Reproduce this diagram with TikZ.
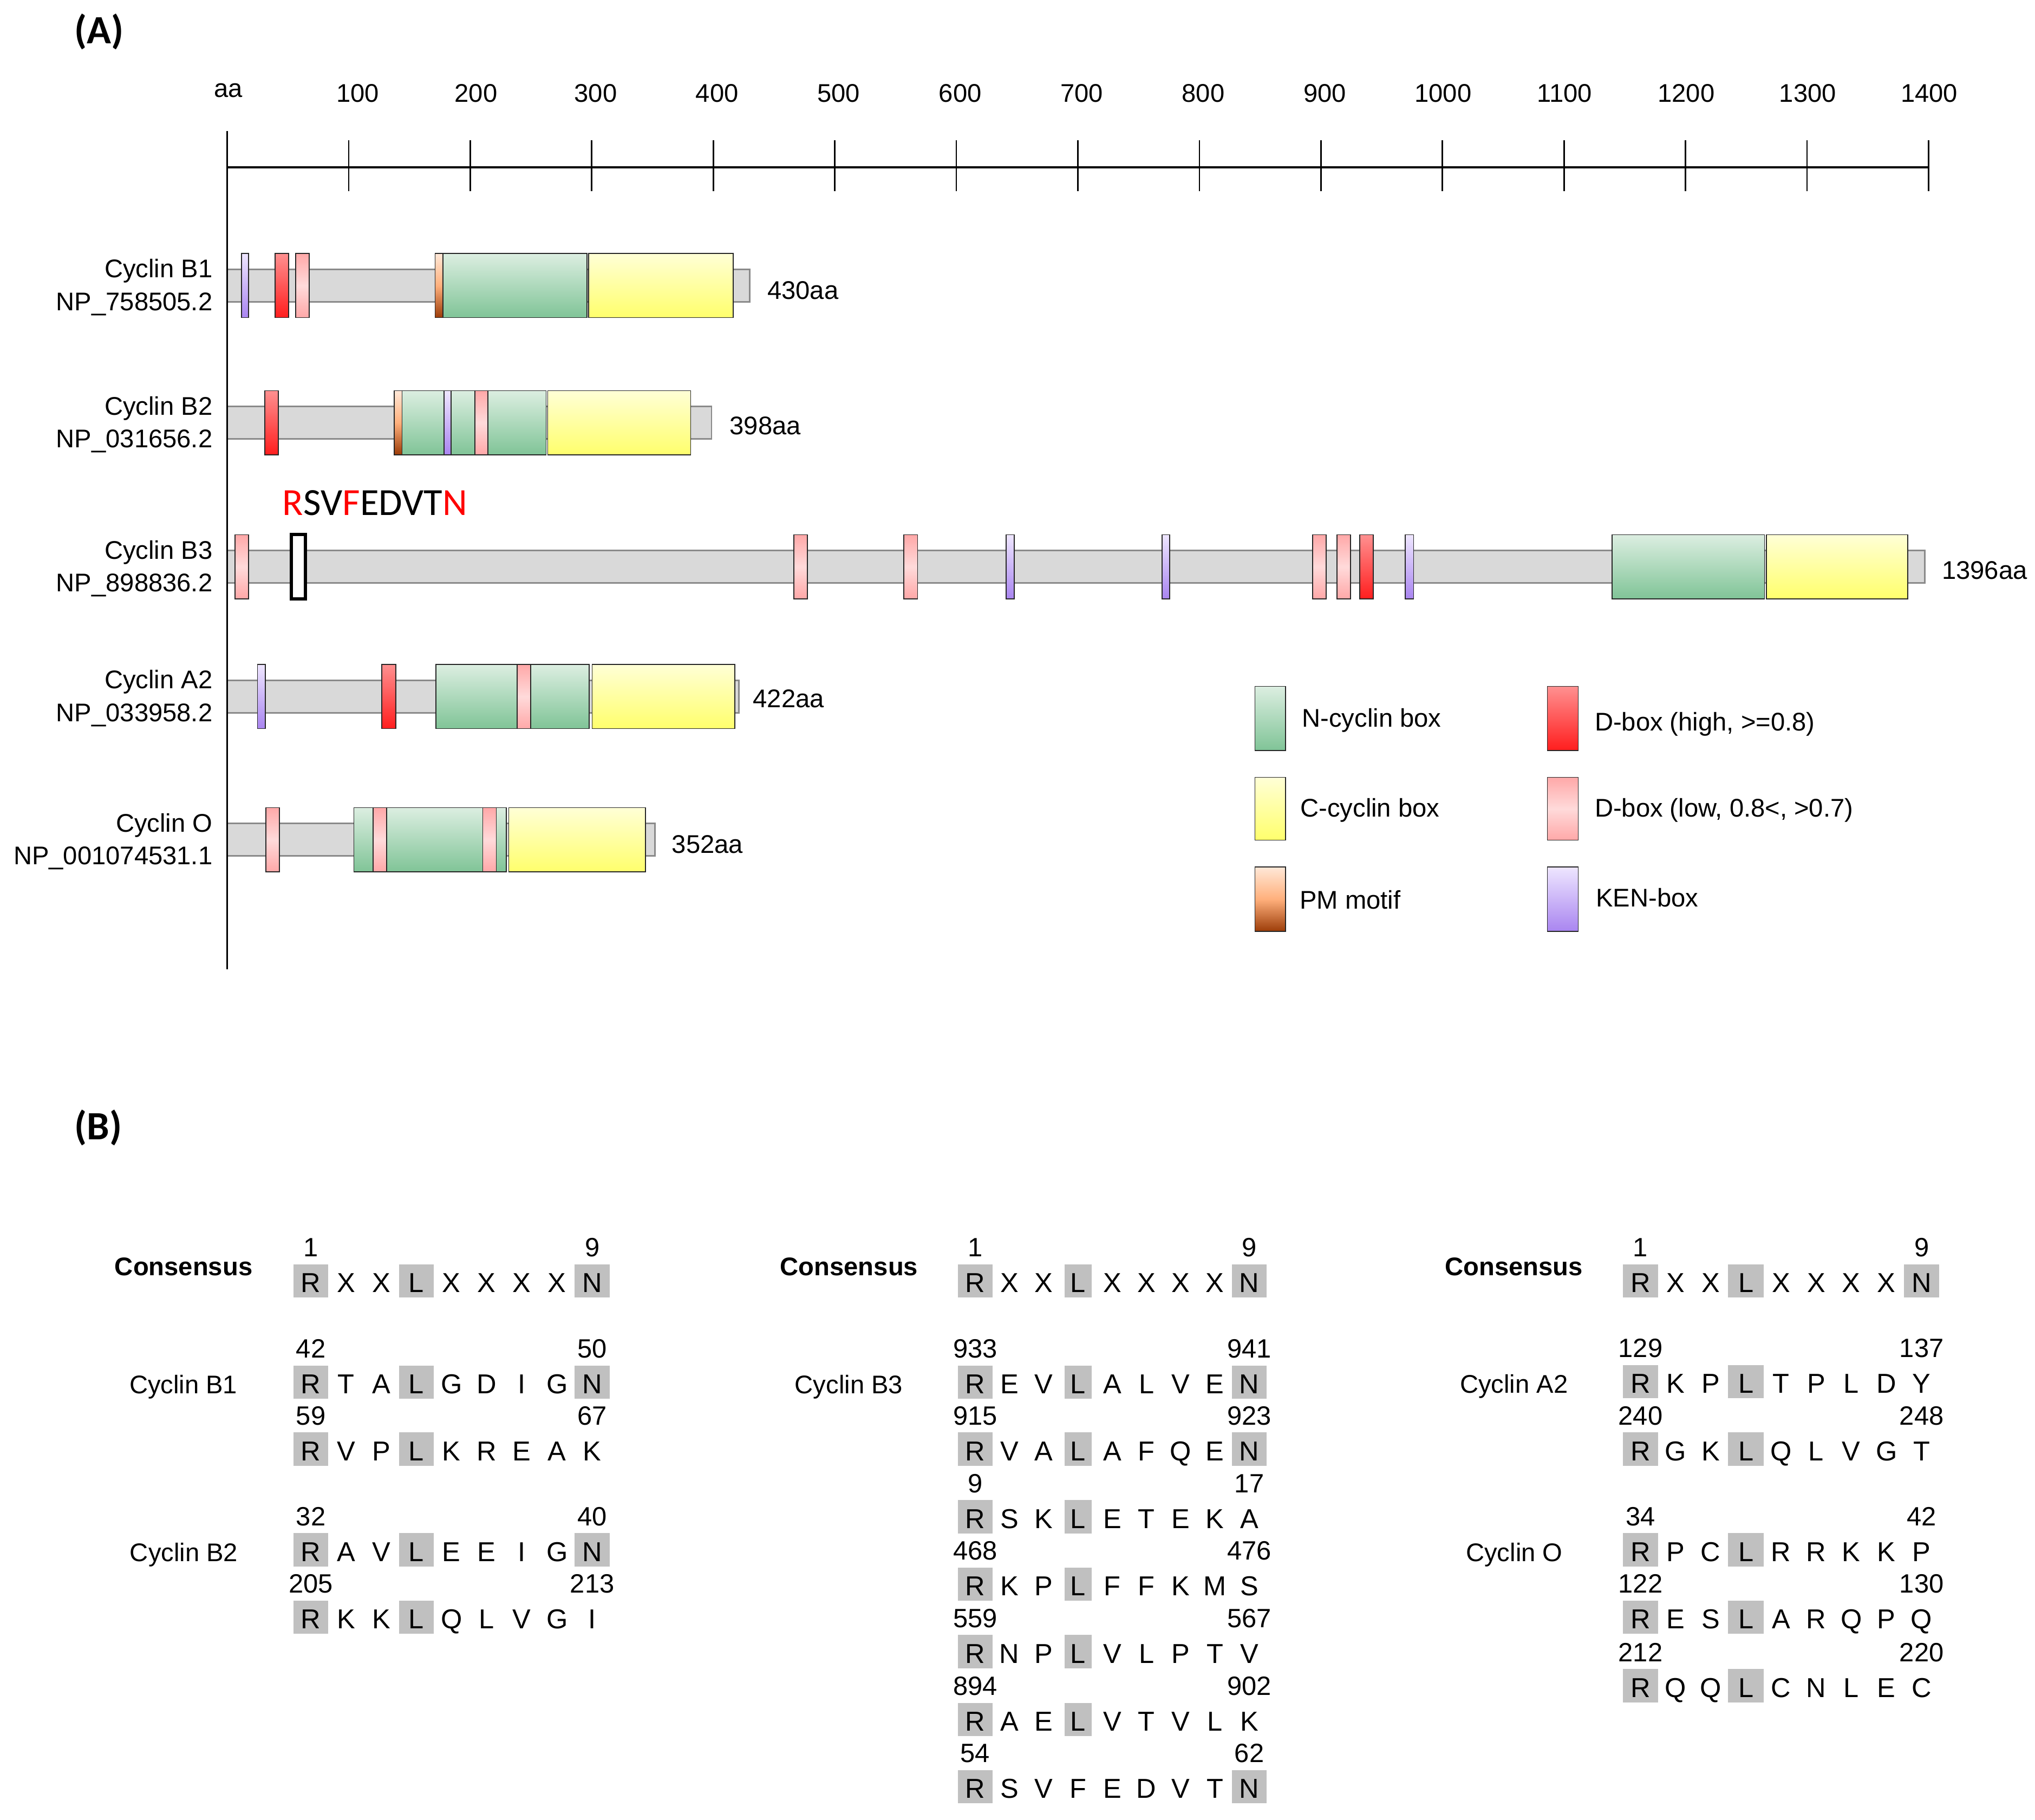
\documentclass[tikz,border=0pt]{standalone}
\usepackage{fontspec}
\setmainfont{Liberation Sans}
\newfontfamily\calib{Carlito}
\newcommand\fsz[1]{\fontsize{#1}{#1}\selectfont}
\definecolor{barfill}{HTML}{D9D9D9}
\definecolor{bardraw}{HTML}{8A8A8A}
\definecolor{ntop}{HTML}{DCEEE1}
\definecolor{nbot}{HTML}{80C497}
\definecolor{ctop}{HTML}{FFFFD6}
\definecolor{cbot}{HTML}{FFFF6C}
\definecolor{dhitop}{HTML}{FF9090}
\definecolor{dhibot}{HTML}{FF1E1E}
\definecolor{dlotop}{HTML}{FFA8A8}
\definecolor{dlomid}{HTML}{FFDADA}
\definecolor{pmtop}{HTML}{FFE8D8}
\definecolor{pmmid}{HTML}{FFB07C}
\definecolor{pmbot}{HTML}{9C3C08}
\definecolor{kentop}{HTML}{EEE6FF}
\definecolor{kenbot}{HTML}{A985F0}
\definecolor{hlgray}{HTML}{C0C0C0}
\tikzset{
  bar/.style={fill=barfill,draw=bardraw,line width=0.8pt},
  dombox/.style={draw=black!85,line width=0.5pt},
  ncyc/.style={dombox,top color=ntop,bottom color=nbot},
  ccyc/.style={dombox,top color=ctop,bottom color=cbot},
  dhi/.style={dombox,top color=dhitop,bottom color=dhibot},
  dlo/.style={dombox,top color=dlotop,bottom color=dlotop,middle color=dlomid},
  pm/.style={dombox,top color=pmtop,bottom color=pmbot,middle color=pmmid},
  ken/.style={dombox,top color=kentop,bottom color=kenbot},
  motifbox/.style={draw=black,line width=1.8pt,fill=white},
  lbl/.style={inner sep=0pt,font=\fsz{14}},
  panel/.style={inner sep=0pt,font=\calib\bfseries\fsz{22},anchor=base west},
  seqtxt/.style={inner sep=0pt,anchor=base,font=\fsz{15}},
  numtxt/.style={inner sep=0pt,anchor=base,font=\fsz{14.5}},
  hl/.style={fill=hlgray},
  axisline/.style={line width=1pt},
  tickline/.style={line width=0.8pt}
}
% domain box: style, x1, x2, row centre
\newcommand\dom[4]{\path[#1] (#2,#4-24.7) rectangle (#3,#4+24.7);}
% protein bar: row centre, end x
\newcommand\protbar[2]{\path[bar] (175,#1-12.5) rectangle (#2,#1+12.5);}
\def\lhw{13.5}
% sequence row: name, x0, dx, baseline, letters, leftnum, rightnum, mode (1=RLN,0=RL,2=RN)
\newcommand\seqrow[8]{%
  \fill[hl] ({#2-13.5},{#4-21.7}) rectangle ({#2+13.5},{#4+4});
  \ifnum#8=2\relax\else
    \fill[hl] ({#2+3*#3-\lhw},{#4-21.7}) rectangle ({#2+3*#3+\lhw},{#4+4});
  \fi
  \ifnum#8=0\relax\else
    \fill[hl] ({#2+8*#3-13.5},{#4-21.7}) rectangle ({#2+8*#3+13.5},{#4+4});
  \fi
  \foreach \c [count=\i from 0] in {#5} {\node[seqtxt] (#1-\i) at ({#2+\i*#3},#4) {\c};}
  \node[numtxt] (#1-a) at (#2,{#4-27.5}) {#6};
  \node[numtxt] (#1-b) at ({#2+8*#3},{#4-27.5}) {#7};
}
\begin{document}
\begin{tikzpicture}[x=0.025cm,y=-0.025cm]
\useasboundingbox (0,0) rectangle (1568,1402);
\fill[white] (0,0) rectangle (1568,1402);

% ---------- panel labels
\node[panel] (pA) at (57,33.4) {(A)};
\node[panel] (pB) at (57,878.2) {(B)};

% ---------- axis
\node[lbl,anchor=base] (aa) at (176,75) {aa};
\foreach \v [count=\k] in {100,200,300,400,500,600,700,800,900,1000,1100,1200,1300,1400}{
  \pgfmathsetmacro\off{\k==1 ? 7 : (\k==2 ? 4.5 : (\k<10 ? 3 : 0.5))}
  \draw[tickline] ({175+93.643*\k},108.2) -- ({175+93.643*\k},147.4);
  \node[lbl,anchor=base] (t\k) at ({175+93.643*\k+\off},78.6) {\v};
}
\draw[axisline] (175,129) -- (1486,129);

% ---------- Cyclin B1
\protbar{220}{577.7}
\dom{ken}{186}{191.6}{220}
\dom{dhi}{212}{222.4}{220}
\dom{dlo}{227.9}{238.3}{220}
\dom{pm}{335.3}{341.3}{220}
\dom{ncyc}{341.3}{452.3}{220}
\dom{ccyc}{453.5}{564.9}{220}
\node[lbl,anchor=base east] (b1n) at (164,214) {Cyclin B1};
\node[lbl,anchor=base east] (b1i) at (164,239.3) {NP\_758505.2};
\node[lbl,anchor=base west] (b1l) at (591,230.5) {430aa};

% ---------- Cyclin B2
\protbar{325.7}{548.2}
\dom{dhi}{204}{214.4}{325.7}
\dom{pm}{303.8}{309.8}{325.7}
\dom{ncyc}{309.8}{420.8}{325.7}
\dom{ken}{342.1}{347.7}{325.7}
\dom{dlo}{366}{376}{325.7}
\dom{ccyc}{422}{532.2}{325.7}
\node[lbl,anchor=base east] (b2n) at (164,319.7) {Cyclin B2};
\node[lbl,anchor=base east] (b2i) at (164,345) {NP\_031656.2};
\node[lbl,anchor=base west] (b2l) at (562,335) {398aa};

% ---------- Cyclin B3
\protbar{436.7}{1483.2}
\dom{dlo}{181.2}{191.6}{436.7}
\dom{motifbox}{224.4}{235.5}{436.7}
\dom{dlo}{611.6}{622}{436.7}
\dom{dlo}{696.5}{707}{436.7}
\dom{ken}{775.2}{781.4}{436.7}
\dom{ken}{895.3}{901.1}{436.7}
\dom{dlo}{1011.3}{1021.7}{436.7}
\dom{dlo}{1030.3}{1040.7}{436.7}
\dom{dhi}{1047.8}{1058.2}{436.7}
\dom{ken}{1082.8}{1089.2}{436.7}
\dom{ncyc}{1242.2}{1359.6}{436.7}
\dom{ccyc}{1361.1}{1469.8}{436.7}
\node[inner sep=0pt,anchor=base west,font=\calib\fsz{21}] (motif) at (217.5,396.8)
  {\textcolor{red}{R}SV\textcolor{red}{F}EDVT\textcolor{red}{N}};
\node[lbl,anchor=base east] (b3n) at (164,430.7) {Cyclin B3};
\node[lbl,anchor=base east] (b3i) at (164,456) {NP\_898836.2};
\node[lbl,anchor=base west] (b3l) at (1496,446.4) {1396aa};

% ---------- Cyclin A2
\protbar{536.7}{569.3}
\dom{ken}{198.4}{204.4}{536.7}
\dom{dhi}{294.2}{305}{536.7}
\dom{ncyc}{335.8}{453.9}{536.7}
\dom{dlo}{398.4}{408.8}{536.7}
\dom{ccyc}{456.3}{566.1}{536.7}
\node[lbl,anchor=base east] (a2n) at (164,530.7) {Cyclin A2};
\node[lbl,anchor=base east] (a2i) at (164,556) {NP\_033958.2};
\node[lbl,anchor=base west] (a2l) at (580,545) {422aa};

% ---------- Cyclin O
\protbar{647}{504.6}
\dom{dlo}{204.8}{215.2}{647}
\dom{ncyc}{272.7}{390}{647}
\dom{dlo}{287.4}{297.8}{647}
\dom{dlo}{372}{382.4}{647}
\dom{ccyc}{392}{497.4}{647}
\node[lbl,anchor=base east] (on) at (164,641) {Cyclin O};
\node[lbl,anchor=base east] (oi) at (164,666.3) {NP\_001074531.1};
\node[lbl,anchor=base west] (ol) at (517.5,657.5) {352aa};

% ---------- vertical axis line
\draw[tickline] (175,100.8) -- (175,747);

% ---------- legend
\path[ncyc] (967,528.9) rectangle (990.6,578.2);
\path[ccyc] (967,599) rectangle (990.6,647.4);
\path[pm] (967,668) rectangle (990.6,717.7);
\path[dhi] (1192.3,528.9) rectangle (1216.1,578.2);
\path[dlo] (1192.3,599) rectangle (1216.1,647.4);
\path[ken] (1192.3,668) rectangle (1216.1,717.7);
\node[lbl,anchor=base west] (lg1) at (1003,560) {N-cyclin box};
\node[lbl,anchor=base west] (lg2) at (1001.7,629.5) {C-cyclin box};
\node[lbl,anchor=base west] (lg3) at (1001.2,700.5) {PM motif};
\node[lbl,anchor=base west] (lg4) at (1228.5,563) {D-box (high, >=0.8)};
\node[lbl,anchor=base west] (lg5) at (1228.5,629.6) {D-box (low, 0.8<, >0.7)};
\node[lbl,anchor=base west] (lg6) at (1229.5,698.6) {KEN-box};

% ---------- panel B, column 1
\node[lbl,anchor=base,font=\bfseries\fsz{14}] (c1h) at (141.5,982.7) {Consensus};
\node[lbl,anchor=base] (c1b1) at (141.3,1073.8) {Cyclin B1};
\node[lbl,anchor=base] (c1b2) at (141.7,1203) {Cyclin B2};
\seqrow{c1r0}{239.5}{27.1}{995.8}{R,X,X,L,X,X,X,X,N}{1}{9}{1}
\seqrow{c1r1}{239.5}{27.1}{1073.8}{R,T,A,L,G,D,I,G,N}{42}{50}{1}
\seqrow{c1r2}{239.5}{27.1}{1125.5}{R,V,P,L,K,R,E,A,K}{59}{67}{0}
\seqrow{c1r3}{239.5}{27.1}{1203}{R,A,V,L,E,E,I,G,N}{32}{40}{1}
\seqrow{c1r4}{239.5}{27.1}{1255}{R,K,K,L,Q,L,V,G,I}{205}{213}{0}

% ---------- panel B, column 2
\def\lhw{10.5}
\node[lbl,anchor=base,font=\bfseries\fsz{14}] (c2h) at (654.2,982.7) {Consensus};
\node[lbl,anchor=base] (c2b3) at (654,1073.8) {Cyclin B3};
\seqrow{c2r0}{751.4}{26.4}{995.8}{R,X,X,L,X,X,X,X,N}{1}{9}{1}
\seqrow{c2r1}{751.4}{26.4}{1073.8}{R,E,V,L,A,L,V,E,N}{933}{941}{1}
\seqrow{c2r2}{751.4}{26.4}{1125.5}{R,V,A,L,A,F,Q,E,N}{915}{923}{1}
\seqrow{c2r3}{751.4}{26.4}{1177.5}{R,S,K,L,E,T,E,K,A}{9}{17}{0}
\seqrow{c2r4}{751.4}{26.4}{1229.5}{R,K,P,L,F,F,K,M,S}{468}{476}{0}
\seqrow{c2r5}{751.4}{26.4}{1281.5}{R,N,P,L,V,L,P,T,V}{559}{567}{0}
\seqrow{c2r6}{751.4}{26.4}{1333.8}{R,A,E,L,V,T,V,L,K}{894}{902}{0}
\seqrow{c2r7}{751.4}{26.4}{1385.5}{R,S,V,F,E,D,V,T,N}{54}{62}{2}

% ---------- panel B, column 3
\def\lhw{13.8}
\node[lbl,anchor=base,font=\bfseries\fsz{14}] (c3h) at (1166.4,982.7) {Consensus};
\node[lbl,anchor=base] (c3a2) at (1166.5,1073.5) {Cyclin A2};
\node[lbl,anchor=base] (c3o) at (1166.8,1203) {Cyclin O};
\seqrow{c3r0}{1264}{27.08}{995.8}{R,X,X,L,X,X,X,X,N}{1}{9}{1}
\seqrow{c3r1}{1264}{27.08}{1073.5}{R,K,P,L,T,P,L,D,Y}{129}{137}{0}
\seqrow{c3r2}{1264}{27.08}{1125.3}{R,G,K,L,Q,L,V,G,T}{240}{248}{0}
\seqrow{c3r3}{1264}{27.08}{1203}{R,P,C,L,R,R,K,K,P}{34}{42}{0}
\seqrow{c3r4}{1264}{27.08}{1255}{R,E,S,L,A,R,Q,P,Q}{122}{130}{0}
\seqrow{c3r5}{1264}{27.08}{1307.7}{R,Q,Q,L,C,N,L,E,C}{212}{220}{0}
\end{tikzpicture}
\end{document}
